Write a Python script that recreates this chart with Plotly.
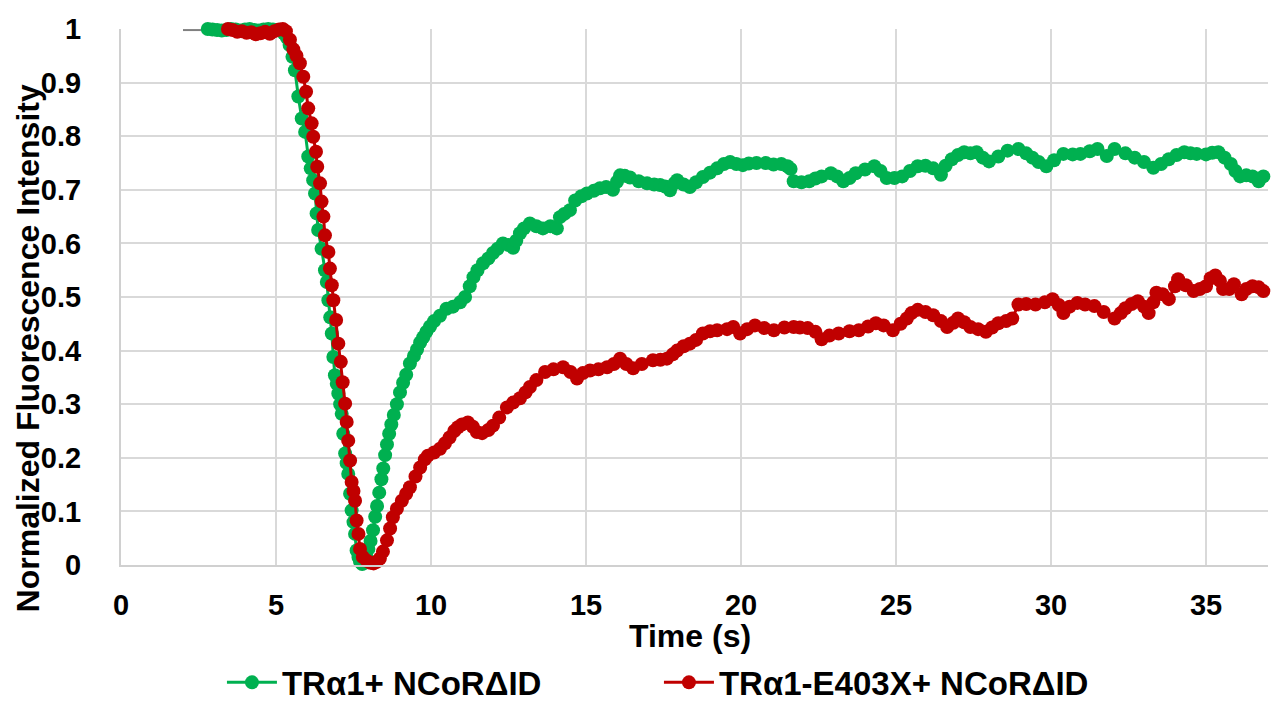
import plotly.graph_objects as go

# ---------------- data ----------------
pre_t = [2.0, 2.8]
pre_y = [0.998, 0.998]

green_t = [2.8, 2.95, 3.1, 3.25, 3.4, 3.55, 3.7, 3.85, 4.0, 4.15, 4.3, 4.45, 4.6, 4.75, 4.9, 5.05, 5.15, 5.25, 5.35, 5.44, 5.53,
           5.61, 5.72, 5.83, 5.94, 6.04, 6.12, 6.2, 6.26, 6.31, 6.36, 6.47, 6.58, 6.64, 6.69, 6.75, 6.8, 6.85, 6.9, 6.96, 7.01,
           7.07, 7.12, 7.17, 7.23, 7.28, 7.33, 7.39, 7.44, 7.5, 7.55, 7.6, 7.66, 7.71, 7.78, 7.85,
           7.92, 7.98, 8.05, 8.13, 8.2, 8.26, 8.33, 8.4, 8.46, 8.52, 8.58, 8.65, 8.72, 8.8, 8.9, 9.0, 9.1, 9.2, 9.32, 9.45,
           9.55, 9.65, 9.75, 9.85, 9.97, 10.1, 10.29, 10.5, 10.71, 10.94, 11.1, 11.25, 11.37, 11.5, 11.68, 11.85, 12.0, 12.15,
           12.32, 12.5, 12.65, 12.75, 12.87, 13.0, 13.19, 13.4, 13.61, 13.85, 14.06, 14.16, 14.3, 14.48, 14.65, 14.85, 15.03,
           15.25, 15.45, 15.65, 15.87, 16.0, 16.1, 16.25, 16.42, 16.7, 16.97, 17.2, 17.39, 17.55, 17.71, 17.85, 17.94, 18.15,
           18.35, 18.55, 18.77, 19.0, 19.23, 19.45, 19.65, 19.85, 20.06, 20.25, 20.5, 20.8, 21.05, 21.3, 21.5, 21.6, 21.7,
           21.95, 22.2, 22.4, 22.6, 22.9, 23.1, 23.3, 23.5, 23.7, 24.0, 24.3, 24.5, 24.7, 24.95, 25.2, 25.45, 25.7, 25.95,
           26.2, 26.45, 26.6, 26.8, 27.0, 27.2, 27.4, 27.6, 27.8, 28.0, 28.3, 28.6, 28.95, 29.2, 29.4, 29.6, 29.85, 30.1,
           30.4, 30.7, 30.95, 31.25, 31.5, 31.8, 32.05, 32.4, 32.7, 33.0, 33.3, 33.55, 33.8, 34.05, 34.3, 34.5, 34.7, 35.0,
           35.2, 35.4, 35.6, 35.8, 35.95, 36.1, 36.3, 36.5, 36.7, 36.85]
green_y = [1.0, 0.999, 0.998, 0.997, 0.998, 1.0, 0.999, 0.997, 0.999, 1.0, 0.998, 0.997, 0.999, 1.0, 0.999, 0.998, 0.997, 0.992, 0.984, 0.97, 0.948,
           0.923, 0.874, 0.833, 0.808, 0.762, 0.74, 0.718, 0.693, 0.656, 0.625, 0.59, 0.55, 0.528, 0.494, 0.462, 0.432, 0.388, 0.354, 0.338, 0.32,
           0.3, 0.282, 0.245, 0.208, 0.19, 0.17, 0.133, 0.102, 0.08, 0.058, 0.027, 0.015, 0.006, 0.002, 0.004,
           0.015, 0.03, 0.045, 0.065, 0.09, 0.11, 0.135, 0.16, 0.18, 0.205, 0.225, 0.245, 0.262, 0.28, 0.3, 0.322, 0.34, 0.355, 0.376, 0.39,
           0.402, 0.415, 0.425, 0.435, 0.445, 0.455, 0.465, 0.478, 0.482, 0.49, 0.5, 0.52, 0.537, 0.55, 0.563, 0.572, 0.582, 0.59,
           0.6, 0.597, 0.592, 0.605, 0.619, 0.628, 0.637, 0.632, 0.628, 0.632, 0.628, 0.649, 0.655, 0.662, 0.68, 0.688, 0.693,
           0.698, 0.703, 0.705, 0.7, 0.715, 0.727, 0.726, 0.723, 0.716, 0.712, 0.71, 0.709, 0.706, 0.699, 0.712, 0.718, 0.71,
           0.705, 0.714, 0.724, 0.732, 0.74, 0.748, 0.752, 0.748, 0.746, 0.749, 0.75, 0.75, 0.747, 0.748, 0.744, 0.739, 0.716,
           0.714, 0.716, 0.721, 0.725, 0.731, 0.725, 0.716, 0.722, 0.731, 0.738, 0.744, 0.735, 0.722, 0.722, 0.725, 0.735, 0.744, 0.745,
           0.74, 0.728, 0.745, 0.757, 0.765, 0.77, 0.768, 0.77, 0.76, 0.753, 0.762, 0.773, 0.776, 0.768, 0.76, 0.752, 0.744, 0.755,
           0.767, 0.766, 0.767, 0.772, 0.776, 0.763, 0.776, 0.768, 0.76, 0.752, 0.741, 0.748, 0.757, 0.765, 0.77, 0.768, 0.767, 0.766,
           0.769, 0.77, 0.76, 0.748, 0.735, 0.725, 0.727, 0.725, 0.716, 0.725]

red_t = [3.45, 3.6, 3.75, 3.9, 4.05, 4.2, 4.35, 4.5, 4.65, 4.8, 4.95, 5.1, 5.22, 5.32, 5.45, 5.56, 5.66,
         5.77, 5.88, 5.97, 6.04, 6.15, 6.2, 6.29, 6.33, 6.42, 6.47, 6.53, 6.58, 6.69, 6.74, 6.8, 6.85, 6.94, 7.01, 7.09,
         7.15, 7.23, 7.28, 7.33, 7.39, 7.44, 7.5, 7.55, 7.6, 7.66, 7.71, 7.8, 7.93, 8.05, 8.15, 8.25, 8.35, 8.45, 8.58,
         8.68, 8.77, 8.9, 9.06, 9.2, 9.32, 9.5, 9.65, 9.8, 9.9, 10.1, 10.29, 10.45, 10.6, 10.75, 10.87, 11.0, 11.19,
         11.35, 11.48, 11.65, 11.85, 12.0, 12.2, 12.45, 12.65, 12.87, 13.05, 13.19, 13.4, 13.68, 13.95, 14.26, 14.5,
         14.71, 14.9, 15.13, 15.4, 15.68, 15.9, 16.1, 16.3, 16.52, 16.8, 17.16, 17.4, 17.61, 17.8, 17.94, 18.15, 18.35,
         18.55, 18.77, 19.0, 19.23, 19.55, 19.75, 19.97, 20.2, 20.45, 20.75, 21.06, 21.4, 21.7, 21.9, 22.15, 22.4, 22.6,
         22.85, 23.15, 23.5, 23.8, 24.1, 24.35, 24.6, 24.9, 25.15, 25.35, 25.5, 25.7, 25.95, 26.2, 26.45, 26.65, 26.85,
         27.0, 27.2, 27.4, 27.65, 27.9, 28.1, 28.3, 28.55, 28.75, 28.95, 29.2, 29.5, 29.8, 30.05, 30.25, 30.4, 30.6,
         30.85, 31.1, 31.4, 31.7, 32.05, 32.25, 32.4, 32.6, 32.8, 33.0, 33.15, 33.3, 33.4, 33.6, 33.8, 34.0, 34.1, 34.35,
         34.6, 34.8, 35.0, 35.15, 35.3, 35.45, 35.55, 35.75, 35.9, 36.15, 36.3, 36.5, 36.7, 36.85]
red_y = [1.0, 0.998, 0.995, 0.996, 0.993, 0.994, 0.99, 0.992, 0.995, 0.991, 0.996, 0.999, 1.0, 0.996, 0.98, 0.962, 0.95,
         0.936, 0.911, 0.883, 0.852, 0.824, 0.799, 0.771, 0.743, 0.712, 0.678, 0.65, 0.615, 0.584, 0.553, 0.522, 0.494, 0.457, 0.413, 0.379,
         0.341, 0.301, 0.267, 0.232, 0.195, 0.155, 0.138, 0.12, 0.083, 0.058, 0.03, 0.015, 0.008, 0.004, 0.003, 0.006, 0.012, 0.025, 0.046,
         0.068, 0.089, 0.105, 0.12, 0.133, 0.145, 0.165, 0.182, 0.197, 0.204, 0.21, 0.217, 0.227, 0.238, 0.25, 0.257, 0.262, 0.266,
         0.258, 0.248, 0.246, 0.252, 0.26, 0.275, 0.294, 0.303, 0.311, 0.322, 0.332, 0.345, 0.36, 0.365, 0.369, 0.36,
         0.348, 0.358, 0.363, 0.365, 0.369, 0.375, 0.385, 0.375, 0.367, 0.375, 0.382, 0.383, 0.385, 0.393, 0.4, 0.408, 0.413,
         0.42, 0.432, 0.436, 0.438, 0.44, 0.444, 0.432, 0.44, 0.447, 0.442, 0.438, 0.443, 0.444, 0.443, 0.442, 0.435, 0.421,
         0.428, 0.432, 0.436, 0.438, 0.445, 0.451, 0.447, 0.438, 0.45, 0.46, 0.47, 0.476, 0.472, 0.466, 0.455, 0.444, 0.452,
         0.46, 0.453, 0.444, 0.44, 0.435, 0.443, 0.451, 0.455, 0.46, 0.486, 0.487, 0.486, 0.49, 0.496, 0.485, 0.47, 0.482,
         0.489, 0.486, 0.483, 0.472, 0.46, 0.47, 0.479, 0.487, 0.492, 0.482, 0.47, 0.49, 0.508, 0.505, 0.496, 0.52, 0.533, 0.522,
         0.511, 0.515, 0.52, 0.535, 0.54, 0.53, 0.515, 0.515, 0.524, 0.505, 0.515, 0.52, 0.518, 0.511]

series_names = ["TRα1+ NCoRΔID", "TRα1-E403X+ NCoRΔID"]
x_ticks = [0, 5, 10, 15, 20, 25, 30, 35]
y_ticks = [0, 0.1, 0.2, 0.3, 0.4, 0.5, 0.6, 0.7, 0.8, 0.9, 1]
y_tick_text = ["0", "0.1", "0.2", "0.3", "0.4", "0.5", "0.6", "0.7", "0.8", "0.9", "1"]

GREEN = "#00B050"
RED = "#C00000"
FONT = "Liberation Sans, Arial, sans-serif"
TICK_FS = 29
TITLE_FS = 32
LEG_FS = 33

fig = go.Figure()
fig.add_trace(go.Scatter(x=pre_t, y=pre_y, mode="lines", line=dict(color="#808080", width=2),
                         showlegend=False, hoverinfo="skip", cliponaxis=False))
fig.add_trace(go.Scatter(x=green_t, y=green_y, mode="lines+markers", name="<b>" + series_names[0] + "</b>",
                         line=dict(color=GREEN, width=3), marker=dict(color=GREEN, size=14),
                         cliponaxis=False))
fig.add_trace(go.Scatter(x=red_t, y=red_y, mode="lines+markers", name="<b>" + series_names[1] + "</b>",
                         line=dict(color=RED, width=3), marker=dict(color=RED, size=14),
                         cliponaxis=False))

fig.update_layout(
    width=1273, height=708,
    margin=dict(l=121, r=5, t=29, b=143, autoexpand=False),
    paper_bgcolor="white", plot_bgcolor="white",
    font=dict(family=FONT, size=TICK_FS, color="black"),
    showlegend=True,
    legend=dict(orientation="h", x=0.469, xanchor="center", y=-0.219, yanchor="middle",
                font=dict(family=FONT, size=LEG_FS, color="black"),
                entrywidth=372, entrywidthmode="pixels", itemwidth=50,
                bgcolor="rgba(0,0,0,0)"),
    annotations=[
        dict(text="<b>Normalized Fluorescence Intensity</b>", textangle=-90, xref="paper", yref="paper",
             x=-0.0811, y=0.404, xanchor="center", yanchor="middle", showarrow=False,
             font=dict(family=FONT, size=TITLE_FS, color="black")),
        dict(text="<b>Time (s)</b>", xref="paper", yref="paper", x=0.496, y=-0.132,
             xanchor="center", yanchor="middle", showarrow=False,
             font=dict(family=FONT, size=TITLE_FS, color="black")),
    ],
)
fig.update_xaxes(range=[0, 37], tickvals=x_ticks, ticktext=[f"<b>{v}</b>" for v in x_ticks],
                 showgrid=True, gridcolor="#D9D9D9", gridwidth=2, zeroline=False,
                 showline=True, linecolor="#D0D0D0", linewidth=2,
                 ticks="", ticklabelstandoff=13, tickfont=dict(family=FONT, size=TICK_FS, color="black"))
fig.update_yaxes(range=[0, 1], tickvals=y_ticks, ticktext=[f"<b>{t}</b>" for t in y_tick_text],
                 showgrid=True, gridcolor="#D9D9D9", gridwidth=2, zeroline=False,
                 showline=True, linecolor="#D0D0D0", linewidth=2,
                 ticks="", ticklabelstandoff=32, tickfont=dict(family=FONT, size=TICK_FS, color="black"))

fig.write_html("out.html")
